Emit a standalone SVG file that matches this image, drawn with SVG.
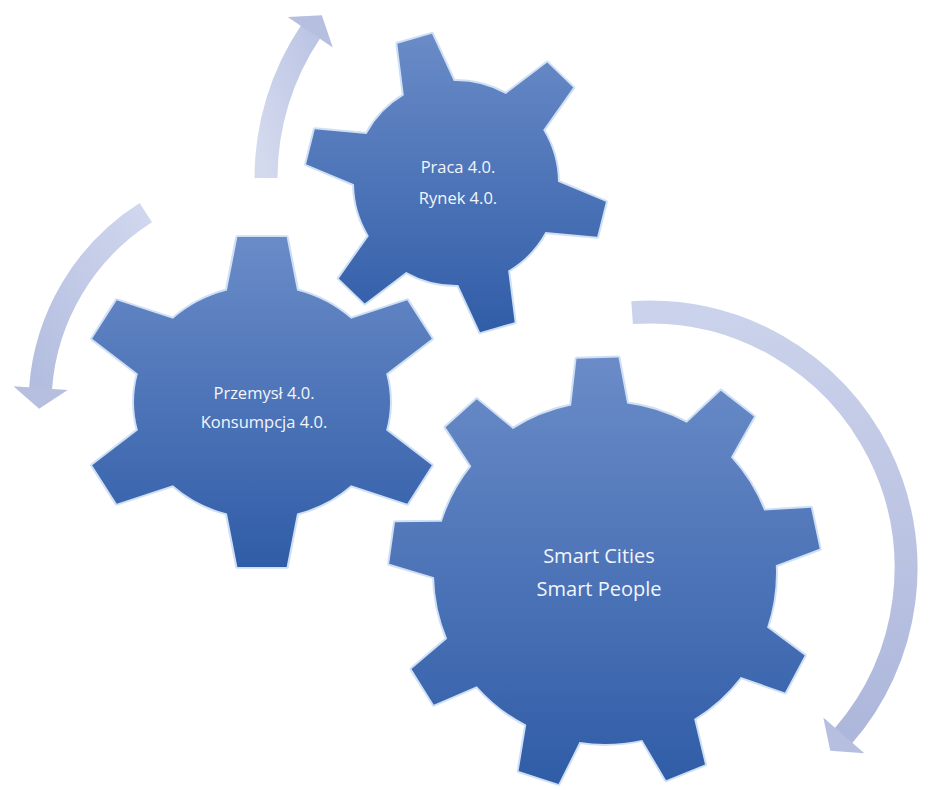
<svg xmlns="http://www.w3.org/2000/svg" width="930" height="790" viewBox="0 0 930 790">
<defs>
<style>
.lbl{font-family:"Open Sans","Liberation Sans",sans-serif;fill:#f2f5fb;text-anchor:middle}
.s{font-size:16.5px}
.b{font-size:20px}
.edge{fill:none;stroke:#cfe0f4;stroke-width:4;stroke-linejoin:round}
.arc{fill:none;stroke-width:23}
</style>
<linearGradient id="gb" x1="0" y1="0" x2="0" y2="1">
<stop offset="0" stop-color="#6b8cc8"/>
<stop offset="1" stop-color="#2f5ca7"/>
</linearGradient>
<linearGradient id="ga1" x1="0" y1="1" x2="1" y2="0">
<stop offset="0" stop-color="#d4daee"/>
<stop offset="1" stop-color="#bcc5e4"/>
</linearGradient>
<linearGradient id="ga2" x1="1" y1="0" x2="0" y2="1">
<stop offset="0" stop-color="#d0d7ee"/>
<stop offset="1" stop-color="#b3bddf"/>
</linearGradient>
<linearGradient id="ga3" x1="0" y1="0" x2="0" y2="1">
<stop offset="0" stop-color="#cbd2eb"/>
<stop offset="1" stop-color="#adb7db"/>
</linearGradient>
<marker id="ah" markerUnits="userSpaceOnUse" markerWidth="30" markerHeight="64" viewBox="-2 -32 32 64" refX="0" refY="0" orient="auto" overflow="visible">
<path d="M-1,-29 L21,0 L-1,29Z" fill="#b6bfe0"/>
</marker>
<path id="t1" d="M-27,-92 L-18,-150 L18,-150 L27,-92Z"/>
<path id="t2" d="M-34,-108 L-23,-170 L23,-170 L34,-108Z"/>
<path id="t3" d="M-29,-162 L-21,-215 L21,-215 L29,-162Z"/>
<clipPath id="c1">
<circle cx="456" cy="183" r="102"/>
<use href="#t1" transform="translate(456,183) rotate(-16)"/>
<use href="#t1" transform="translate(456,183) rotate(44)"/>
<use href="#t1" transform="translate(456,183) rotate(104)"/>
<use href="#t1" transform="translate(456,183) rotate(164)"/>
<use href="#t1" transform="translate(456,183) rotate(224)"/>
<use href="#t1" transform="translate(456,183) rotate(284)"/>
</clipPath>
<clipPath id="c2">
<ellipse cx="262" cy="402" rx="128" ry="116"/>
<use href="#t2" transform="translate(262,402) scale(1.07,0.97) rotate(0)"/>
<use href="#t2" transform="translate(262,402) scale(1.07,0.97) rotate(60)"/>
<use href="#t2" transform="translate(262,402) scale(1.07,0.97) rotate(120)"/>
<use href="#t2" transform="translate(262,402) scale(1.07,0.97) rotate(180)"/>
<use href="#t2" transform="translate(262,402) scale(1.07,0.97) rotate(240)"/>
<use href="#t2" transform="translate(262,402) scale(1.07,0.97) rotate(300)"/>
</clipPath>
<clipPath id="c3">
<circle cx="605" cy="573" r="171"/>
<use href="#t3" transform="translate(605,573) rotate(-2)"/>
<use href="#t3" transform="translate(605,573) rotate(38)"/>
<use href="#t3" transform="translate(605,573) rotate(78)"/>
<use href="#t3" transform="translate(605,573) rotate(118)"/>
<use href="#t3" transform="translate(605,573) rotate(158)"/>
<use href="#t3" transform="translate(605,573) rotate(198)"/>
<use href="#t3" transform="translate(605,573) rotate(238)"/>
<use href="#t3" transform="translate(605,573) rotate(278)"/>
<use href="#t3" transform="translate(605,573) rotate(318)"/>
</clipPath>
</defs>

<g id="connectors">
<path class="arc" stroke="url(#ga1)" marker-end="url(#ah)" d="M266,178 A262,262 0 0 1 310.8,31.5"/>
<path class="arc" stroke="url(#ga2)" marker-end="url(#ah)" d="M145.8,212.6 A228,228 0 0 0 40.5,389.1"/>
<path class="arc" stroke="url(#ga3)" marker-end="url(#ah)" d="M632.1,312.6 A256,256 0 0 1 843.2,736"/>
</g>

<g id="gear-praca">
<g class="edge">
<circle cx="456" cy="183" r="102"/>
<use href="#t1" transform="translate(456,183) rotate(-16)"/>
<use href="#t1" transform="translate(456,183) rotate(44)"/>
<use href="#t1" transform="translate(456,183) rotate(104)"/>
<use href="#t1" transform="translate(456,183) rotate(164)"/>
<use href="#t1" transform="translate(456,183) rotate(224)"/>
<use href="#t1" transform="translate(456,183) rotate(284)"/>
</g>
<rect x="295" y="28" width="320" height="312" fill="url(#gb)" clip-path="url(#c1)"/>
<text class="lbl s" x="458" y="173">Praca 4.0.</text>
<text class="lbl s" x="458" y="204">Rynek  4.0.</text>
</g>

<g id="gear-przemysl">
<g class="edge">
<ellipse cx="262" cy="402" rx="128" ry="116"/>
<use href="#t2" transform="translate(262,402) scale(1.07,0.97) rotate(0)"/>
<use href="#t2" transform="translate(262,402) scale(1.07,0.97) rotate(60)"/>
<use href="#t2" transform="translate(262,402) scale(1.07,0.97) rotate(120)"/>
<use href="#t2" transform="translate(262,402) scale(1.07,0.97) rotate(180)"/>
<use href="#t2" transform="translate(262,402) scale(1.07,0.97) rotate(240)"/>
<use href="#t2" transform="translate(262,402) scale(1.07,0.97) rotate(300)"/>
</g>
<rect x="75" y="232" width="375" height="340" fill="url(#gb)" clip-path="url(#c2)"/>
<text class="lbl s" x="264" y="399">Przemysł 4.0.</text>
<text class="lbl s" x="264" y="428">Konsumpcja 4.0.</text>
</g>

<g id="gear-smart">
<g class="edge">
<circle cx="605" cy="573" r="171"/>
<use href="#t3" transform="translate(605,573) rotate(-2)"/>
<use href="#t3" transform="translate(605,573) rotate(38)"/>
<use href="#t3" transform="translate(605,573) rotate(78)"/>
<use href="#t3" transform="translate(605,573) rotate(118)"/>
<use href="#t3" transform="translate(605,573) rotate(158)"/>
<use href="#t3" transform="translate(605,573) rotate(198)"/>
<use href="#t3" transform="translate(605,573) rotate(238)"/>
<use href="#t3" transform="translate(605,573) rotate(278)"/>
<use href="#t3" transform="translate(605,573) rotate(318)"/>
</g>
<rect x="388" y="353" width="434" height="437" fill="url(#gb)" clip-path="url(#c3)"/>
<text class="lbl b" x="599" y="563">Smart Cities</text>
<text class="lbl b" x="599" y="596">Smart People</text>
</g>
</svg>
